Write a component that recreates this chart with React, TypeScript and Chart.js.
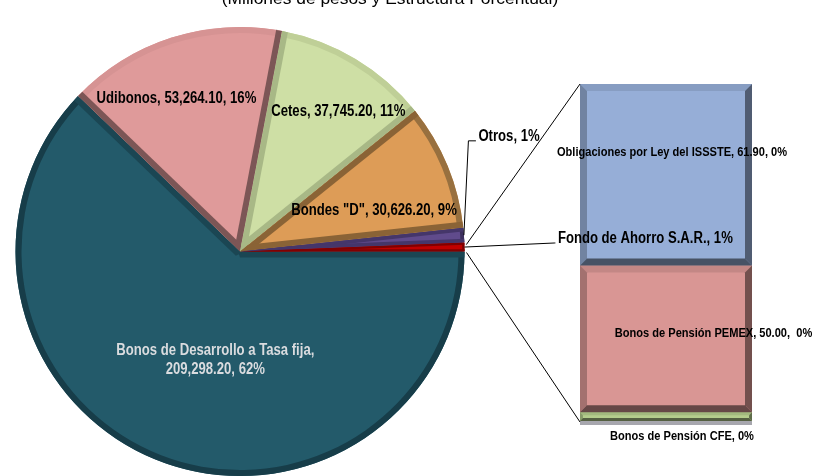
import React, { useEffect, useRef } from "react";
import { Chart, registerables } from "chart.js";
Chart.register(...registerables);

const W = 819;
const H = 476;

const titleText = "(Millones de pesos y Estructura Porcentual)";

// ---- data: pie ----
const pieCategories = [
  "Bonos de Desarrollo a Tasa fija",
  "Udibonos",
  "Cetes",
  'Bondes "D"',
  "Otros",
  "Fondo de Ahorro S.A.R.",
];
const pieValues = [209298.2, 53264.1, 37745.2, 30626.2, 3570.0, 2120.0];
const pieShowValue = [true, true, true, true, false, false];

// ---- data: bar (breakdown) ----
const barCategories = ["Bonos de Pensión CFE", "Bonos de Pensión PEMEX", "Obligaciones por Ley del ISSSTE"];
const barValues = [3.0, 50.0, 61.9];
const barShowValue = [false, true, true];
const barPctSep = [", ", ",  ", ", "];

// ---- styles ----
const pieFill = ["#235a6a", "#df9a9a", "#cedfa5", "#dd9c57", "#604b8c", "#c00000"];
const pieSide = ["#1b4653", "#7c5656", "#a8b886", "#8a6336", "#45366a", "#800000"];
const pieRim = ["#173d49", "#d69393", "#bfcf97", "#98703f", "#3c2f5e", "#7a0000"];
const pieLabelPos = [
  [-0.11, 0.485],
  [-0.283, -0.681],
  [0.438, -0.624],
  [0.597, -0.181],
  [1.062, -0.513],
  [1.416, -0.058],
];
const pieLabelAlign = ["center", "center", "center", "center", "left", "left"];
const pieLabelColor = ["#dadcdf", "#000", "#000", "#000", "#000", "#000"];
const pieLabelWrap = [true, false, false, false, false, false];
const pieLeaderElbow = [0, 0, 0, 0, 10, 3];

const barFill = ["#b4cd8c", "#d99694", "#96aed7"];
const barLabelPos = [
  [16, 1, 15],
  [47.5, 0.46, 0],
  [6, 0.376, 0],
];

const FONT = '"Liberation Sans", Arial, sans-serif';
const SCALE_X = 0.82;

const pieTotal = pieValues.reduce((a, b) => a + b, 0);
const fmt = (v: number) =>
  v.toLocaleString("en-US", { minimumFractionDigits: 2, maximumFractionDigits: 2 });
const pct = (v: number) => Math.round((v / pieTotal) * 100) + "%";

function shade(hex: string, f: number) {
  const n = parseInt(hex.slice(1), 16);
  const r = Math.round(((n >> 16) & 255) * f);
  const g = Math.round(((n >> 8) & 255) * f);
  const b = Math.round((n & 255) * f);
  return `rgb(${Math.min(255, r)},${Math.min(255, g)},${Math.min(255, b)})`;
}

function drawText(
  ctx: CanvasRenderingContext2D,
  text: string,
  x: number,
  y: number,
  size: number,
  color: string,
  align: string,
  bold = true,
  sx = SCALE_X
) {
  ctx.save();
  ctx.font = `${bold ? "bold " : ""}${size}px ${FONT}`;
  ctx.fillStyle = color;
  ctx.textBaseline = "middle";
  ctx.textAlign = "left";
  const w = ctx.measureText(text).width * sx;
  const left = align === "center" ? x - w / 2 : x;
  ctx.translate(left, y);
  ctx.scale(sx, 1);
  ctx.fillText(text, 0, 0);
  ctx.restore();
}

function barRect(el: any) {
  const p = el.getProps(["x", "y", "base", "width"], true);
  const top = Math.min(p.y, p.base);
  const bottom = Math.max(p.y, p.base);
  return { l: p.x - p.width / 2, r: p.x + p.width / 2, t: top, b: bottom, cx: p.x };
}

const barPlugin = {
  id: "barDecor",
  beforeDatasetsDraw(chart: any) {
    const ctx = chart.ctx as CanvasRenderingContext2D;
    const bottom = barRect(chart.getDatasetMeta(0).data[0]);
    ctx.save();
    ctx.fillStyle = "#a7a7ae";
    ctx.fillRect(bottom.l, bottom.b, bottom.r - bottom.l, 4);
    ctx.restore();
  },
  afterDatasetsDraw(chart: any) {
    const ctx = chart.ctx as CanvasRenderingContext2D;
    barValues.forEach((_, i) => {
      const { l, r, t, b } = barRect(chart.getDatasetMeta(i).data[0]);
      const w = Math.min(7, (b - t) / 3);
      const base = barFill[i];
      const polys: [number[][], number][] = [
        [[[l, t], [r, t], [r - w, t + w], [l + w, t + w]], 0.9],
        [[[l, t], [l + w, t + w], [l + w, b - w], [l, b]], 0.75],
        [[[r, t], [r - w, t + w], [r - w, b - w], [r, b]], 0.53],
        [[[l, b], [l + w, b - w], [r - w, b - w], [r, b]], 0.47],
      ];
      ctx.save();
      polys.forEach(([pts, f]) => {
        ctx.beginPath();
        pts.forEach(([px, py], k) => (k ? ctx.lineTo(px, py) : ctx.moveTo(px, py)));
        ctx.closePath();
        ctx.fillStyle = shade(base, f);
        ctx.fill();
      });
      ctx.restore();
    });
    // labels
    barValues.forEach((v, i) => {
      const { t, b, cx } = barRect(chart.getDatasetMeta(i).data[0]);
      const [dx, fy, dy] = barLabelPos[i];
      const text =
        barCategories[i] + (barShowValue[i] ? ", " + fmt(v) + barPctSep[i] : ", ") + pct(v);
      drawText(ctx, text, cx + dx, t + fy * (b - t) + dy, 13.5, "#000", "center");
    });
  },
};

function makePiePlugin(getBar: () => any) {
  return {
    id: "pieDecor",
    beforeDatasetsDraw(chart: any) {
      const ctx = chart.ctx as CanvasRenderingContext2D;
      const a = chart.getDatasetMeta(0).data[0].getProps(["x", "y", "outerRadius"], true);
      ctx.save();
      ctx.beginPath();
      ctx.arc(a.x, a.y, a.outerRadius - 2, 0, Math.PI * 2);
      ctx.fillStyle = "#2b2b2b";
      ctx.fill();
      ctx.restore();
    },
    afterDatasetsDraw(chart: any) {
      const ctx = chart.ctx as CanvasRenderingContext2D;
      const meta = chart.getDatasetMeta(0);
      // bevel
      meta.data.forEach((arc: any, i: number) => {
        const p = arc.getProps(["x", "y", "startAngle", "endAngle", "outerRadius"], true);
        const cx = p.x, cy = p.y, a0 = p.startAngle, a1 = p.endAngle, r = p.outerRadius;
        const span = (a1 - a0) * r;
        const w = Math.min(6, span / 4);
        ctx.save();
        ctx.beginPath();
        ctx.moveTo(cx, cy);
        ctx.arc(cx, cy, r, a0, a1);
        ctx.closePath();
        ctx.clip();
        ctx.beginPath();
        ctx.arc(cx, cy, r + 1, a0, a1);
        ctx.arc(cx, cy, r - w, a1, a0, true);
        ctx.closePath();
        ctx.fillStyle = pieRim[i];
        ctx.fill();
        ([[a0, 1], [a1, -1]] as number[][]).forEach(([a, dir]) => {
          const ux = Math.cos(a), uy = Math.sin(a);
          const nx = -uy * dir, ny = ux * dir;
          ctx.beginPath();
          ctx.moveTo(cx - ux * 2, cy - uy * 2);
          ctx.lineTo(cx + ux * (r + 2), cy + uy * (r + 2));
          ctx.lineTo(cx + ux * (r + 2) + nx * w, cy + uy * (r + 2) + ny * w);
          ctx.lineTo(cx + nx * w, cy + ny * w);
          ctx.closePath();
          ctx.fillStyle = pieSide[i];
          ctx.fill();
        });
        ctx.restore();
      });
    },
    afterDraw(chart: any) {
      const ctx = chart.ctx as CanvasRenderingContext2D;
      const meta = chart.getDatasetMeta(0);
      // title
      drawText(ctx, titleText, 390, -1, 17.4, "#000", "center", false, 1);
      // labels
      meta.data.forEach((arc: any, i: number) => {
        const p = arc.getProps(["x", "y", "startAngle", "endAngle", "outerRadius"], true);
        const r = p.outerRadius;
        const lx = p.x + pieLabelPos[i][0] * r;
        const ly = p.y + pieLabelPos[i][1] * r;
        const v = pieValues[i];
        const valuePart = pieShowValue[i] ? fmt(v) + ", " + pct(v) : pct(v);
        const lines = pieLabelWrap[i]
          ? [pieCategories[i] + ",", valuePart]
          : [pieCategories[i] + ", " + valuePart];
        const lh = 19;
        lines.forEach((t, k) => {
          drawText(ctx, t, lx, ly + (k - (lines.length - 1) / 2) * lh, 16, pieLabelColor[i], pieLabelAlign[i]);
        });
        if (pieLeaderElbow[i]) {
          const mid = (p.startAngle + p.endAngle) / 2;
          const sx = p.x + Math.cos(mid) * r;
          const sy = p.y + Math.sin(mid) * r;
          ctx.save();
          ctx.strokeStyle = "#000";
          ctx.lineWidth = 1;
          ctx.beginPath();
          ctx.moveTo(sx, sy);
          ctx.lineTo(lx - pieLeaderElbow[i], ly + 4.5);
          ctx.lineTo(lx - 2.5, ly + 4.5);
          ctx.stroke();
          ctx.restore();
        }
      });
      // connectors from last slice to the bar
      const bar = getBar();
      if (bar) {
        const last = meta.data[meta.data.length - 1].getProps(
          ["x", "y", "startAngle", "endAngle", "outerRadius"],
          true
        );
        const topRect = barRect(bar.getDatasetMeta(barValues.length - 1).data[0]);
        const botRect = barRect(bar.getDatasetMeta(0).data[0]);
        const r = last.outerRadius;
        ctx.save();
        ctx.strokeStyle = "#000";
        ctx.lineWidth = 1;
        ctx.beginPath();
        ctx.moveTo(last.x + Math.cos(last.startAngle) * r + 2, last.y + Math.sin(last.startAngle) * r + 2);
        ctx.lineTo(topRect.l, topRect.t);
        ctx.moveTo(last.x + Math.cos(last.endAngle) * r + 2, last.y + Math.sin(last.endAngle) * r + 1);
        ctx.lineTo(botRect.l, botRect.b + 1);
        ctx.stroke();
        ctx.restore();
      }
    },
  };
}

export default function App() {
  const barRef = useRef<HTMLCanvasElement>(null);
  const pieRef = useRef<HTMLCanvasElement>(null);

  useEffect(() => {
    document.body.style.margin = "0";
    const barTotal = barValues.reduce((a, b) => a + b, 0);
    const barChart = new Chart(barRef.current!, {
      type: "bar",
      data: {
        labels: [""],
        datasets: barValues.map((v, i) => ({
          label: barCategories[i],
          data: [v],
          backgroundColor: barFill[i],
          borderWidth: 0,
          barPercentage: 1,
          categoryPercentage: 1,
        })),
      },
      options: {
        responsive: false,
        animation: false,
        devicePixelRatio: 1,
        events: [],
        layout: { padding: { left: 580, right: 67, top: 84, bottom: 55 } },
        scales: {
          x: { display: false, stacked: true },
          y: { display: false, stacked: true, min: 0, max: barTotal },
        },
        plugins: { legend: { display: false }, tooltip: { enabled: false } },
      },
      plugins: [barPlugin],
    } as any);

    const pieChart = new Chart(pieRef.current!, {
      type: "pie",
      data: {
        labels: pieCategories,
        datasets: [
          {
            data: pieValues,
            backgroundColor: pieFill,
            borderWidth: 0,
            hoverOffset: 0,
          },
        ],
      },
      options: {
        responsive: false,
        animation: false,
        devicePixelRatio: 1,
        events: [],
        rotation: 90,
        layout: { padding: { left: 14, top: 27, right: 353, bottom: -3 } },
        plugins: { legend: { display: false }, tooltip: { enabled: false } },
      },
      plugins: [makePiePlugin(() => barChart)],
    } as any);

    return () => {
      pieChart.destroy();
      barChart.destroy();
    };
  }, []);

  return (
    <div style={{ position: "relative", width: W, height: H, overflow: "hidden", background: "#fff" }}>
      <canvas ref={barRef} width={W} height={H} style={{ position: "absolute", left: 0, top: 0 }} />
      <canvas ref={pieRef} width={W} height={H} style={{ position: "absolute", left: 0, top: 0 }} />
    </div>
  );
}
